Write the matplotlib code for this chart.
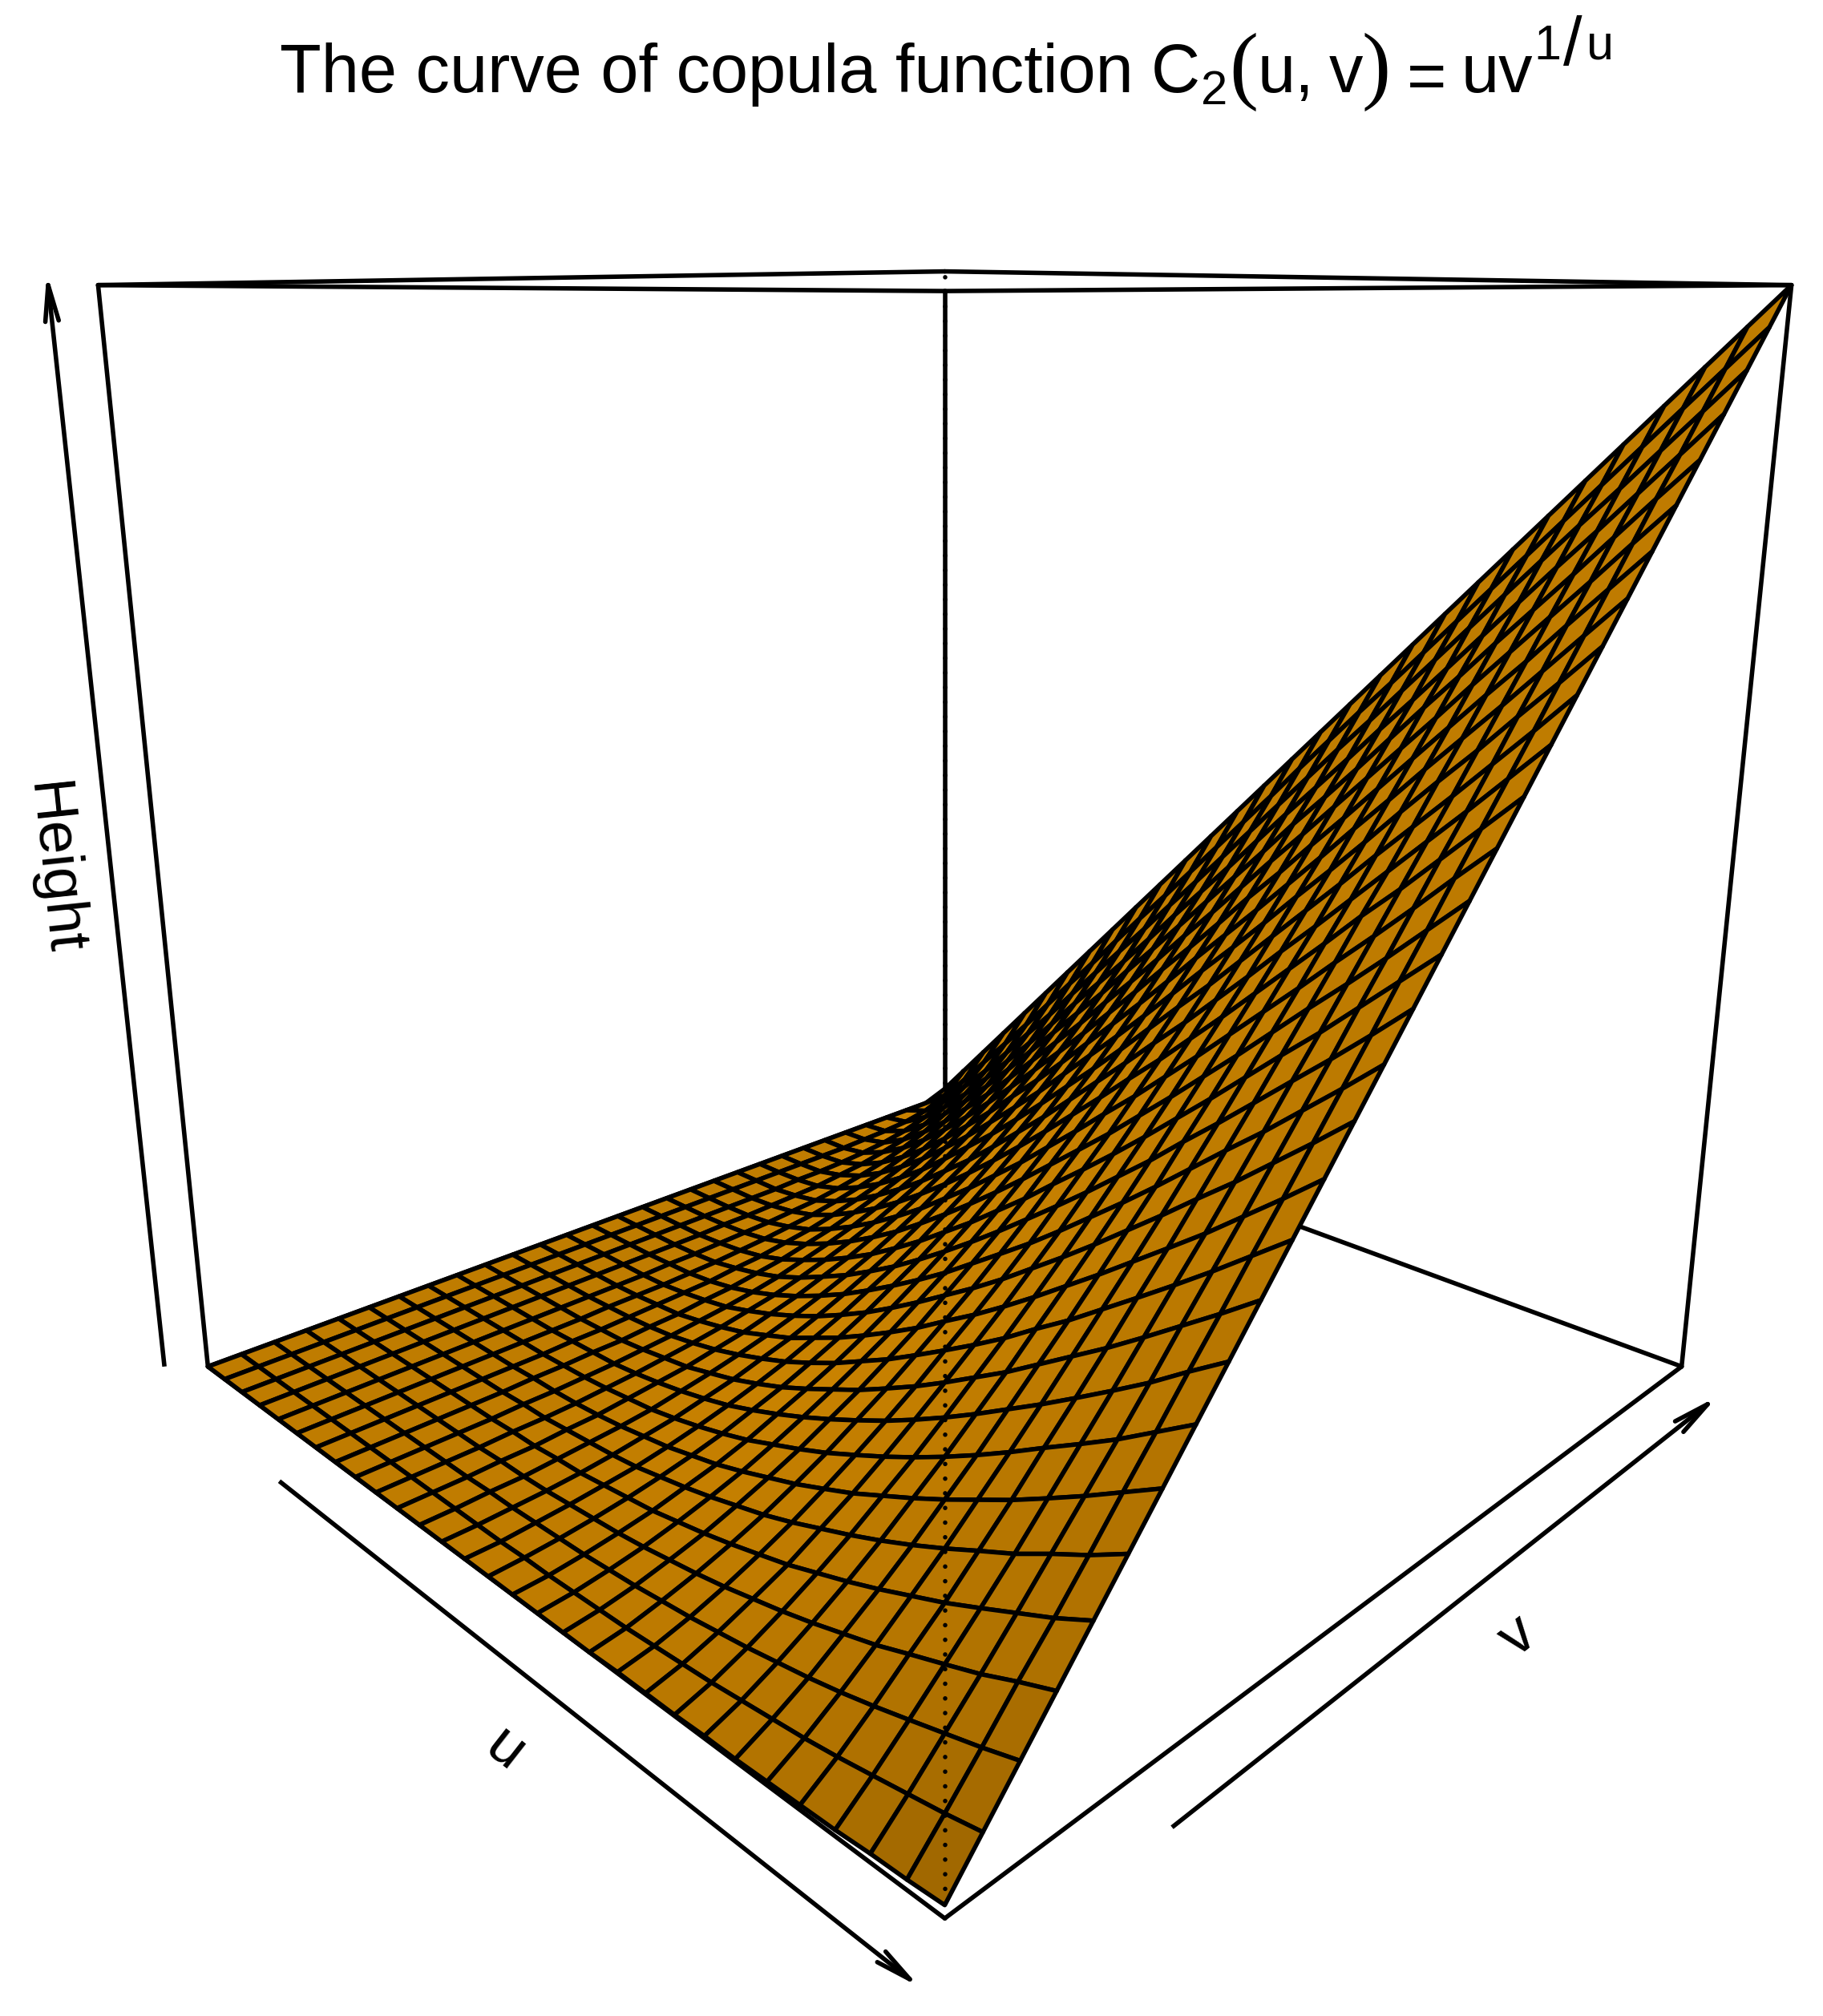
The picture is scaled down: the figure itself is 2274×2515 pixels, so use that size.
import numpy as np
import matplotlib
matplotlib.use('Agg')
import matplotlib.pyplot as plt
from matplotlib.collections import PolyCollection

plt.rcParams['font.family'] = ['Liberation Sans', 'DejaVu Sans']

# ---- data (heights in thousandths) ----
u_grid = [.010, .044, .078, .112, .147, .181, .215, .249, .283, .317,
          .351, .386, .420, .454, .488, .522, .556, .590, .624, .659,
          .693, .727, .761, .795, .829, .863, .898, .932, .966, 1.000]
v_grid = [.010, .044, .078, .112, .147, .181, .215, .249, .283, .317,
          .351, .386, .420, .454, .488, .522, .556, .590, .624, .659,
          .693, .727, .761, .795, .829, .863, .898, .932, .966, 1.000]
heights = [
 [0]*29 + [10],
 [0]*24 + [1,2,4,9,20,44],
 [0]*20 + [1,1,2,4,7,12,20,32,50,78],
 [0]*16 + [1,1,2,3,4,7,10,15,21,30,43,60,83,112],
 [0]*13 + [1,1,2,3,4,6,8,12,17,23,31,41,54,70,90,116,147],
 [0]*10 + [1,1,1,2,3,5,7,10,13,18,24,31,40,51,64,80,99,122,149,181],
 [0]*8 + [1,1,2,3,4,5,8,10,14,18,24,31,39,49,60,74,90,108,130,155,183,215],
 [0]*6 + [1,1,2,2,4,5,8,10,14,18,24,30,38,47,57,69,83,99,117,138,161,187,217,249],
 [0]*5 + [1,1,2,3,5,7,10,13,17,22,29,36,44,54,65,77,92,108,126,146,169,193,221,250,283],
 [0]*4 + [1,1,2,4,6,9,12,16,21,26,33,41,50,60,72,85,100,116,134,154,176,200,226,254,284,317],
 [0]*3 + [1,1,3,4,7,10,13,18,23,30,37,46,55,66,78,92,107,124,142,162,183,206,231,258,287,318,351],
 [0,0,1,1,3,5,7,10,15,20,26,33,41,50,60,71,84,98,114,130,149,169,190,213,237,263,291,321,352,386],
 [0,0,1,2,4,7,11,15,21,27,35,43,53,64,76,89,104,120,137,155,175,196,219,243,269,296,324,355,386,420],
 [0,0,2,4,7,10,15,21,28,36,45,56,67,80,93,108,125,142,161,181,202,225,249,274,300,328,358,388,420,454],
 [0,1,3,6,10,15,21,28,37,46,57,69,82,97,112,129,147,166,186,207,230,254,279,305,332,361,391,422,454,488],
 [0,1,4,8,13,20,27,36,47,58,70,84,99,115,132,150,170,190,212,235,258,283,309,337,365,394,424,456,488,522],
 [0,2,6,11,18,26,35,46,58,71,85,100,117,134,153,173,194,216,239,263,287,313,340,368,397,427,458,490,523,556],
 [0,3,8,15,23,33,44,56,70,84,100,117,136,155,175,196,219,242,266,291,317,344,372,400,430,460,492,524,557,590],
 [0,4,11,19,29,40,53,67,83,99,117,136,155,176,198,221,244,269,294,320,347,375,403,433,463,494,525,558,591,624],
 [1,6,14,24,36,49,64,80,97,115,135,155,176,198,222,246,270,296,322,349,377,406,435,465,496,527,559,592,625,659],
 [1,8,18,30,43,59,75,93,112,132,153,175,198,221,246,271,297,324,351,379,408,437,467,498,529,560,593,626,659,693],
 [1,10,22,36,52,69,88,107,128,150,172,196,220,245,271,297,324,352,380,409,439,469,499,530,562,594,626,660,693,727],
 [2,13,27,43,61,80,101,122,145,168,193,218,243,269,296,324,352,381,410,440,470,500,532,563,595,628,660,694,727,761],
 [2,16,32,51,71,92,115,138,163,188,213,240,267,294,323,351,380,410,440,470,501,532,564,596,628,661,694,728,761,795],
 [3,19,38,59,82,105,130,155,181,208,235,263,291,320,349,379,409,439,470,501,533,565,597,629,662,695,728,762,795,829],
 [4,23,45,69,93,119,145,173,200,228,257,286,316,346,376,407,438,469,501,532,564,597,629,662,695,728,762,796,829,863],
 [5,28,53,79,106,133,162,191,220,250,280,310,341,372,404,435,467,499,531,564,596,629,662,695,729,762,796,830,864,898],
 [7,33,61,89,119,149,179,209,240,272,303,335,367,399,431,464,496,529,562,595,628,662,695,729,762,796,830,864,898,932],
 [8,38,69,101,132,164,197,229,262,294,327,360,393,426,459,493,526,560,593,627,660,694,728,762,796,830,864,898,932,966],
 [10,44,78,112,147,181,215,249,283,317,351,386,420,454,488,522,556,590,624,659,693,727,761,795,829,863,898,932,966,1000],
]
axis_labels = ['u', 'v', 'Height']

# ---- view (R persp style: theta 45, phi 15, r + d) ----
PHI = np.radians(15)
DIST = 3.732
SCALE = 695.0
CX, CY = 1178.5, 1077.0
LW = 4.0
BASE = np.array([255, 165, 0]) / 255
LIGHT = np.array([-0.583, 0.217, 0.5])


def to_cube(a, low=0.01, high=1.0):
    return 2 * (np.asarray(a, float) - low) / (high - low) - 1


def project(x, y, z):
    x, y, z = np.asarray(x, float), np.asarray(y, float), np.asarray(z, float)
    h = (x + y) / np.sqrt(2)
    d = (x - y) / np.sqrt(2)
    yy = z * np.cos(PHI) - d * np.sin(PHI)
    zz = z * np.sin(PHI) + d * np.cos(PHI)
    w = 1 - zz / DIST
    return CX + SCALE * h / w, CY - SCALE * yy / w


fig = plt.figure(figsize=(22.74, 25.15), dpi=100)
ax = fig.add_axes([0, 0, 1, 1])
ax.set_xlim(0, 2274)
ax.set_ylim(2515, 0)
ax.axis('off')

X = to_cube(u_grid)
Y = to_cube(v_grid)
Z = 2 * np.array(heights, float) / 1000 - 1
n = len(X)


def edge(a, b, **kw):
    px, py = project(*zip(a, b))
    ax.plot(px, py, color='black', lw=LW, solid_capstyle='round', solid_joinstyle='round', **kw)


L, F, R, B = (-1, -1), (1, -1), (1, 1), (-1, 1)
for c in (L, R, B):
    edge((*c, -1), (*c, 1), zorder=2)
for a, b in ((L, B), (B, R), (L, F), (F, R)):
    edge((*a, -1), (*b, -1), zorder=2)
    edge((*a, 1), (*b, 1), zorder=2)

# facets, back to front
polys, cols = [], []
for i in range(n - 1):
    for j in range(n - 2, -1, -1):
        xs = [X[i], X[i + 1], X[i + 1], X[i]]
        ys = [Y[j], Y[j], Y[j + 1], Y[j + 1]]
        zs = [Z[i, j], Z[i + 1, j], Z[i + 1, j + 1], Z[i, j + 1]]
        px, py = project(xs, ys, zs)
        polys.append(np.column_stack([px, py]))
        d1 = np.array([xs[2] - xs[0], ys[2] - ys[0], zs[2] - zs[0]])
        d2 = np.array([xs[3] - xs[1], ys[3] - ys[1], zs[3] - zs[1]])
        nrm = np.cross(d2, d1)
        nrm = nrm / np.linalg.norm(nrm)
        if nrm[2] < 0:
            nrm = -nrm
        cols.append(BASE * (1 + nrm @ LIGHT) / 2)
ax.add_collection(PolyCollection(polys, facecolors=cols, edgecolors='black', linewidths=LW,
                                 joinstyle='round', zorder=3))

# dotted front edge over the surface
px, py = project([1, 1], [-1, -1], [-1, 1])
ax.plot(px, py, color='black', lw=LW, linestyle=(0, (0.01, 3.28)), dash_capstyle='round', zorder=4)


def arrow(a, b):
    px, py = project(*zip(a, b))
    ax.plot(px, py, color='black', lw=LW, solid_capstyle='butt', zorder=4)
    ang = np.arctan2(py[1] - py[0], px[1] - px[0])
    for s in (1, -1):
        ax.plot([px[1] - 46 * np.cos(ang + s * np.radians(10.5)), px[1]],
                [py[1] - 46 * np.sin(ang + s * np.radians(10.5)), py[1]],
                color='black', lw=LW, solid_capstyle='round', zorder=4)


arrow((-0.53, -1.1, -1), (1.04, -1.1, -1))
arrow((1.1, -0.67, -1), (1.1, 0.9, -1))
arrow((-1.059, -1.059, -1), (-1.059, -1.059, 1))

# title pieces
MAIN, SMALL = 61, 44
ax.text(349, 115, 'The curve of copula function', fontsize=MAIN, ha='left', va='baseline')
ax.text(1436, 115, 'C', fontsize=MAIN, ha='left', va='baseline')
ax.text(1498, 130, '2', fontsize=43, ha='left', va='baseline')
ax.text(1551, 116, '(', fontsize=78, family='Liberation Serif', ha='center', va='baseline')
ax.text(1568, 115, 'u,', fontsize=MAIN, ha='left', va='baseline')
ax.text(1658, 115, 'v', fontsize=MAIN, ha='left', va='baseline')
ax.text(1717, 116, ')', fontsize=78, family='Liberation Serif', ha='center', va='baseline')
ax.text(1780, 123, '=', fontsize=MAIN, ha='center', va='baseline')
ax.text(1823, 115, 'uv', fontsize=MAIN, ha='left', va='baseline')
ax.text(1913, 74, '1', fontsize=SMALL, ha='left', va='baseline')
ax.text(1962, 81, '/', fontsize=MAIN, ha='center', va='baseline')
ax.text(1979, 74, 'u', fontsize=SMALL, ha='left', va='baseline')

ax.text(630, 2183, axis_labels[0], fontsize=54, rotation=-38, ha='center', va='center', rotation_mode='anchor')
ax.text(1894, 2042, axis_labels[1], fontsize=54, rotation=38, ha='center', va='center', rotation_mode='anchor')
ax.text(67, 1084, axis_labels[2], fontsize=54, rotation=-84, ha='center', va='center', rotation_mode='anchor')

fig.savefig('out.png', dpi=100)
